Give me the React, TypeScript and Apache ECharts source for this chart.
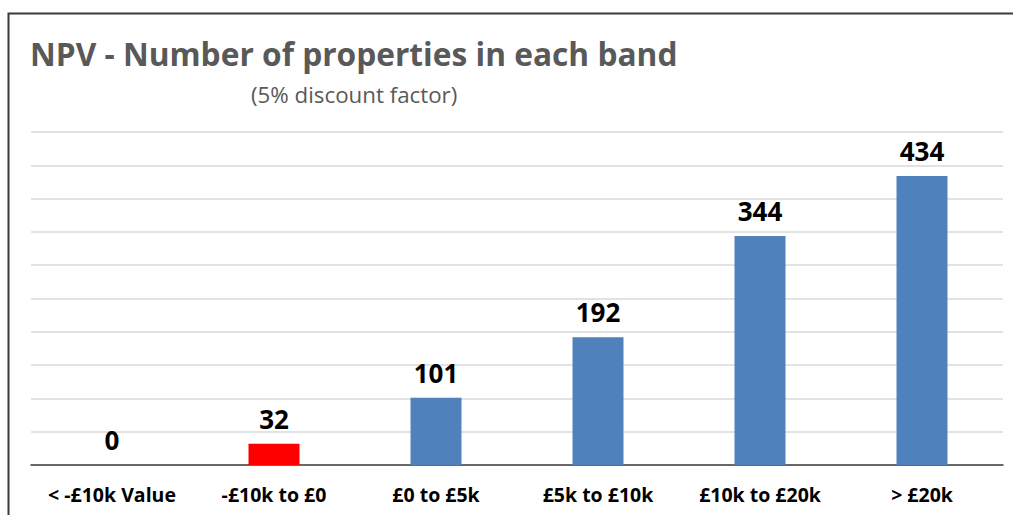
import React, { useEffect, useRef } from "react";
import * as echarts from "echarts";

const categories = ["< -£10k Value", "-£10k to £0", "£0 to £5k", "£5k to £10k", "£10k to £20k", "> £20k"];
const values = [0, 32, 101, 192, 344, 434];
const barColors = ["#4f81bd", "#ff0000", "#4f81bd", "#4f81bd", "#4f81bd", "#4f81bd"];
const titleText = "NPV - Number of properties in each band";
const subtitleText = "(5% discount factor)";

export default function App() {
  const ref = useRef<HTMLDivElement>(null);
  useEffect(() => {
    document.body.style.margin = "0";
    const chart = echarts.init(ref.current!, null, { renderer: "svg" });
    chart.setOption({
      animation: false,
      backgroundColor: "#ffffff",
      graphic: [
        {
          type: "rect",
          shape: { x: 8.5, y: 13.5, width: 1020, height: 520 },
          style: { fill: "none", stroke: "#3a3a3a", lineWidth: 2 },
          z: 100,
        },
        {
          type: "text",
          left: 30,
          top: 37,
          style: {
            text: titleText,
            font: "bold 31.7px 'Open Sans'",
            fill: "#595959",
          },
        },
        {
          type: "text",
          left: 251,
          top: 83,
          style: {
            text: subtitleText,
            font: "22.3px 'Open Sans'",
            fill: "#595959",
          },
        },
      ],
      grid: { left: 31, right: 10, top: 132, bottom: 50, containLabel: false },
      xAxis: {
        type: "category",
        data: categories,
        axisLine: { lineStyle: { color: "#404040", width: 1.5 } },
        axisTick: { show: false },
        axisLabel: {
          color: "#000000",
          fontWeight: "bold",
          fontSize: 19.5,
          fontFamily: "Open Sans",
          margin: 19,
          interval: 0,
        },
      },
      yAxis: {
        type: "value",
        min: 0,
        max: 500,
        interval: 50,
        axisLabel: { show: false },
        axisLine: { show: false },
        axisTick: { show: false },
        splitLine: { lineStyle: { color: "#d9d9d9", width: 1.5 } },
      },
      series: [
        {
          type: "bar",
          data: values.map((v, i) => ({ value: v, itemStyle: { color: barColors[i] } })),
          barWidth: 51,
          label: {
            show: true,
            position: "top",
            distance: 12,
            color: "#000000",
            fontWeight: "bold",
            fontSize: 26,
            fontFamily: "Open Sans",
          },
        },
      ],
    });
    return () => chart.dispose();
  }, []);
  return <div ref={ref} style={{ width: 1013, height: 515 }} />;
}
